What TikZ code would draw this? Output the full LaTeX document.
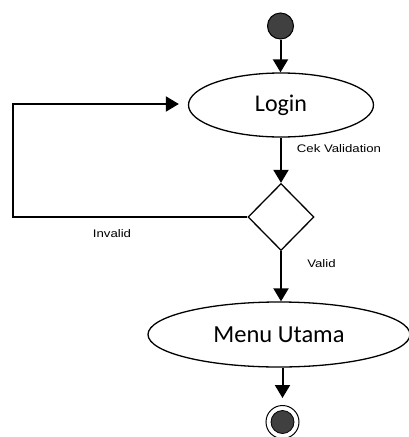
\documentclass[tikz,border=0pt]{standalone}
\usepackage{fontspec}
\setmainfont{Carlito}
\newfontfamily\labelfont[FakeStretch=1.2]{Liberation Sans}
\usetikzlibrary{arrows.meta,positioning,shapes.geometric,calc}

\begin{document}
\begin{tikzpicture}[x=1pt, y=-1pt, line width=2pt, >={Triangle[length=13pt,width=15pt]},
  act node/.style={ellipse,draw,line width=1.3pt,inner sep=0pt},
  dec node/.style={diamond,draw,line width=1.3pt,inner sep=0pt,minimum width=66pt,minimum height=67pt},
  lbl/.style={font=\labelfont\fontsize{11}{12}\selectfont,inner sep=0pt}]
\useasboundingbox (0,0) rectangle (408,437);
\begin{scope}
\node[circle,draw,line width=1pt,fill=black!75,minimum size=26pt,inner sep=0pt] (start) at (280.5,26) {};
\node[act node,minimum width=185pt,minimum height=64pt,font=\fontsize{24}{28}\selectfont] (login) at (281,105) {Login};
\node[dec node] (cek) at (281,217) {};
\node[act node,minimum width=262pt,minimum height=65pt,font=\fontsize{24.5}{28}\selectfont] (menu) at (279,334.5) {Menu Utama};
\node[circle,draw,line width=1pt,minimum size=33pt,inner sep=0pt] (stop) at (282.5,422) {};
\node[circle,fill=black!75,draw,line width=0.8pt,minimum size=23pt,inner sep=0pt] (stopin) at (282.5,422) {};
%labels
\node[lbl] (lcek) at (339,149) {Cek Validation};
\node[lbl] (linv) at (112,234) {Invalid};
\node[lbl] (lval) at (321.5,264) {Valid};
\coordinate (c1) at (13,217);
\coordinate (c2) at (13,104);
\end{scope}
\begin{scope}
\draw[->] (start) -- (start |- login.north);
\draw[->] (login.south -| cek) -- (cek.north);
\draw[->] (cek.south) -- (cek.south |- menu.north);
\draw[->,shorten >=7pt] (menu.south -| stop) -- (stop.north);
\draw[->,shorten >=9pt] (cek.west) -- (c1) -- (c2) -- (c2 -| login.west);
\end{scope}
\end{tikzpicture}
\end{document}
